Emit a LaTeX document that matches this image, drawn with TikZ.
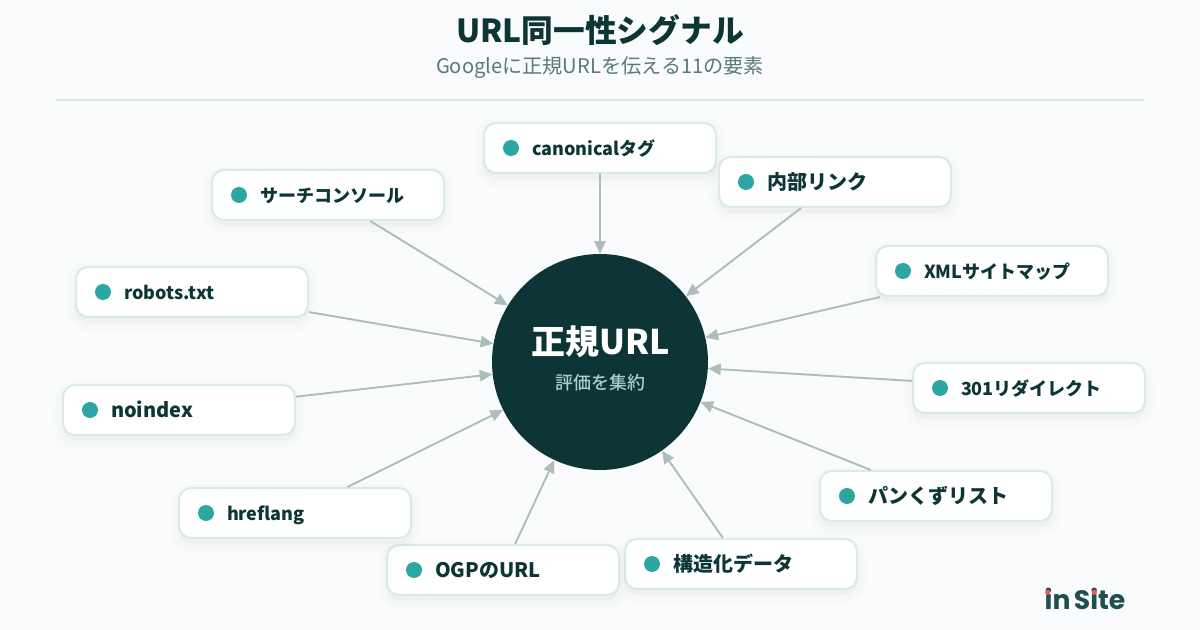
\documentclass[tikz,border=0pt]{standalone}
\usepackage{xcolor}
\usepackage{fontspec}
\setmainfont{Noto Sans CJK JP}
\newfontfamily\mediumfont[UprightFont=* Medium]{Noto Sans CJK JP}
\newfontfamily\logofont[WordSpace=0.6]{Poppins}
\usepackage{tikz}
\usetikzlibrary{arrows.meta}
\usetikzlibrary{shadows}
\definecolor{pagebg}{HTML}{F9FBFC}
\definecolor{deepteal}{HTML}{0D3535}
\definecolor{mutedteal}{HTML}{5A7A78}
\definecolor{rulegrey}{HTML}{E0E8E6}
\definecolor{cardedge}{HTML}{DCEAE7}
\definecolor{dotteal}{HTML}{2BA6A3}
\definecolor{arrowgrey}{HTML}{ACBDBA}
\definecolor{paleteal}{HTML}{A8CFC9}
\definecolor{logoteal}{HTML}{1F4F4F}
\definecolor{logored}{HTML}{F25555}

\begin{document}
\begin{tikzpicture}[x=0.75pt,y=-0.75pt,
	card/.style={draw=cardedge, line width=1.5pt, fill=white, rounded corners=9pt, minimum height=37.5pt,
		text width=162pt, inner xsep=6pt, inner ysep=0pt, align=left, text=deepteal,
		text height=12pt, text depth=0pt,
		font=\fontsize{13.5}{16}\selectfont\bfseries,
		execute at begin node={\hspace*{30pt}},
		general shadow={draw=deepteal, fill=deepteal, line width=14pt, opacity=.006, shadow yshift=-4pt},
		general shadow={draw=deepteal, fill=deepteal, line width=9pt, opacity=.007, shadow yshift=-4pt},
		general shadow={draw=deepteal, fill=deepteal, line width=4pt, opacity=.008, shadow yshift=-4pt}},
	bigcard/.style={card, font=\fontsize{15}{18}\selectfont\bfseries},
	dot/.style={circle, fill=dotteal, minimum size=12pt, inner sep=0pt},
	logodot/.style={circle, fill=logored, minimum size=3.8pt, inner sep=0pt},
	hub/.style={circle, fill=deepteal, minimum size=162pt, inner sep=0pt},
	arrow/.style={-{Triangle[length=9.5pt,width=8.5pt]}, arrowgrey, line width=1.4pt}]
	% Page
	\fill[pagebg] (0,0) rectangle (1200,630);
	\useasboundingbox (0,0) rectangle (1200,630);
	% Heading
	\node[text=deepteal, font=\fontsize{23.8}{28}\selectfont\bfseries] (title) at (600,30) {URL同一性シグナル};
	\node[text=mutedteal, font=\fontsize{15.1}{18}\selectfont] (subtitle) at (600,67.5) {Googleに正規URLを伝える11の要素};
	\coordinate (ruleleft) at (56,100);
	\coordinate (ruleright) at (1144,100);
	\draw[rulegrey, line width=1.5pt] (ruleleft) -- (ruleright);
	% Centre
	\node[hub] (hub) at (600,362) {};
	\node[text=white, font=\fontsize{25.5}{30}\selectfont\bfseries] (hubtitle) at (600.5,342) {正規URL};
	\node[text=paleteal, font=\mediumfont\fontsize{13.5}{16}\selectfont] (hubsub) at (600,383) {評価を集約};
	% Cards
	\node[card] (canon) at (600,148) {canonicalタグ};
	\node[bigcard] (inner) at (835,182) {内部リンク};
	\node[card] (xml) at (992,271) {XMLサイトマップ};
	\node[card] (redirect) at (1029,388) {301リダイレクト};
	\node[bigcard] (crumb) at (936,496) {パンくずリスト};
	\node[bigcard] (schema) at (741,564) {構造化データ};
	\node[bigcard] (ogp) at (503,570) {OGPのURL};
	\node[card] (hreflang) at (295,513) {hreflang};
	\node[bigcard] (noindex) at (179,410) {noindex};
	\node[card] (robots) at (192,292) {robots.txt};
	\node[card] (console) at (328,195) {サーチコンソール};
	% Dots
	\node[dot] (canondot) at ([xshift=21pt]canon.west) {};
	\node[dot] (innerdot) at ([xshift=21pt]inner.west) {};
	\node[dot] (xmldot) at ([xshift=21pt]xml.west) {};
	\node[dot] (redirectdot) at ([xshift=21pt]redirect.west) {};
	\node[dot] (crumbdot) at ([xshift=21pt]crumb.west) {};
	\node[dot] (schemadot) at ([xshift=21pt]schema.west) {};
	\node[dot] (ogpdot) at ([xshift=21pt]ogp.west) {};
	\node[dot] (hreflangdot) at ([xshift=21pt]hreflang.west) {};
	\node[dot] (noindexdot) at ([xshift=21pt]noindex.west) {};
	\node[dot] (robotsdot) at ([xshift=21pt]robots.west) {};
	\node[dot] (consoledot) at ([xshift=21pt]console.west) {};
	% Connectors
	\path[arrow]
	(canon) edge (hub)
	(inner) edge (hub)
	(xml) edge (hub)
	(redirect) edge (hub)
	(crumb) edge (hub)
	(schema) edge (hub)
	(ogp) edge (hub)
	(hreflang) edge (hub)
	(noindex) edge (hub)
	(robots) edge (hub)
	(console) edge (hub);
	% Logo
	\node[text=logoteal, font=\fontsize{20}{24}\logofont\bfseries\selectfont] (logo) at (1085,599) {in Site};
	\node[logodot] (logodota) at (1047.7,592.3) {};
	\node[logodot] (logodotb) at (1094.3,592.3) {};
\end{tikzpicture}
\end{document}
